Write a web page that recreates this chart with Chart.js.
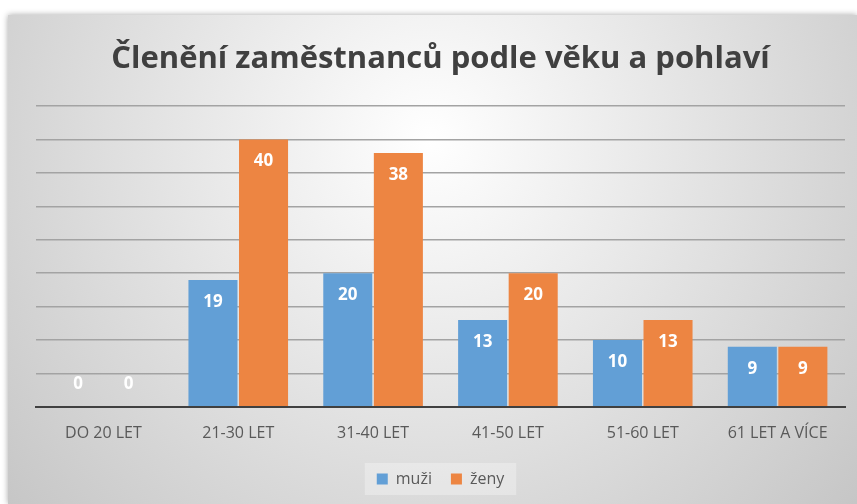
<!DOCTYPE html>
<html>
<head>
<meta charset="utf-8">
<script src="https://cdn.jsdelivr.net/npm/chart.js@4"></script>
<style>
  html, body { margin: 0; padding: 0; background: #fff; }
  #wrap { width: 857px; height: 504px; }
</style>
</head>
<body>
<div id="wrap"><canvas id="graf" width="857" height="504"></canvas></div>
<script>
// data
const kategorie = ['DO 20 LET', '21-30 LET', '31-40 LET', '41-50 LET', '51-60 LET', '61 LET A VÍCE'];
const muzi = [0, 19, 20, 13, 10, 9];
const zeny = [0, 40, 38, 20, 13, 9];
const nazevGrafu = 'Členění zaměstnanců podle věku a pohlaví';

// pozadí s přechodem
const pozadi = {
    id: 'pozadi',
    beforeDraw(chart) {
        const c = chart.ctx;
        c.save();
        c.fillStyle = '#ffffff';
        c.fillRect(0, 0, chart.width, chart.height);
        const g = c.createRadialGradient(430, 140, 0, 430, 140, 560);
        g.addColorStop(0, '#ffffff');
        g.addColorStop(1, '#c6c6c6');
        c.shadowColor = 'rgba(0,0,0,0.35)';
        c.shadowBlur = 6;
        c.fillStyle = g;
        c.fillRect(8, 15, chart.width - 8, chart.height - 15);
        c.shadowBlur = 0;
        // podklad legendy
        const boxy = chart.legend.legendHitBoxes;
        if (boxy && boxy.length) {
            const x0 = boxy[0].left - 12;
            const last = boxy[boxy.length - 1];
            const x1 = last.left + last.width + 12;
            const y0 = boxy[0].top - 8;
            c.fillStyle = 'rgba(255,255,255,0.3)';
            c.fillRect(x0, y0, x1 - x0, boxy[0].height + 16);
        }
        c.restore();
    }
};

// popisky hodnot uvnitř sloupců
const popisky = {
    id: 'popisky',
    afterDatasetsDraw(chart) {
        const c = chart.ctx;
        const zaklad = chart.scales.y.getPixelForValue(0);
        c.save();
        c.fillStyle = '#ffffff';
        c.font = 'bold 17px "Open Sans", sans-serif';
        c.textAlign = 'center';
        c.textBaseline = 'middle';
        chart.data.datasets.forEach((ds, i) => {
            chart.getDatasetMeta(i).data.forEach((bar, j) => {
                const v = ds.data[j];
                const y = v > 0 ? bar.y + 22 : zaklad - 23;
                c.fillText(String(v), bar.x, y);
            });
        });
        c.restore();
    }
};

new Chart(document.getElementById('graf'), {
    type: 'bar',
    data: {
        labels: kategorie,
        datasets: [
            { label: 'muži', data: muzi, backgroundColor: '#629fd6', barPercentage: 0.97, categoryPercentage: 0.75 },
            { label: 'ženy', data: zeny, backgroundColor: '#ed8542', barPercentage: 0.97, categoryPercentage: 0.75 }
        ]
    },
    options: {
        responsive: false,
        animation: false,
        layout: { padding: { left: 36, right: 12, top: 0, bottom: 7 } },
        plugins: {
            title: {
                display: true,
                text: nazevGrafu,
                color: '#404040',
                font: { family: 'Open Sans', size: 31, weight: 'bold' },
                padding: { top: 41, bottom: 28 }
            },
            legend: {
                position: 'bottom',
                labels: {
                    color: '#595959',
                    font: { family: 'Open Sans', size: 16 },
                    boxWidth: 11,
                    boxHeight: 11,
                    padding: 19
                }
            },
            tooltip: { enabled: false }
        },
        scales: {
            x: {
                grid: { display: false },
                border: { color: '#404040', width: 2 },
                ticks: { color: '#595959', font: { family: 'Open Sans', size: 16 }, padding: 9 }
            },
            y: {
                min: 0,
                max: 45,
                ticks: { display: false, stepSize: 5 },
                grid: { color: '#a3a3a3', lineWidth: 1.5, drawTicks: false },
                border: { display: false }
            }
        }
    },
    plugins: [pozadi, popisky]
});
</script>
</body>
</html>
